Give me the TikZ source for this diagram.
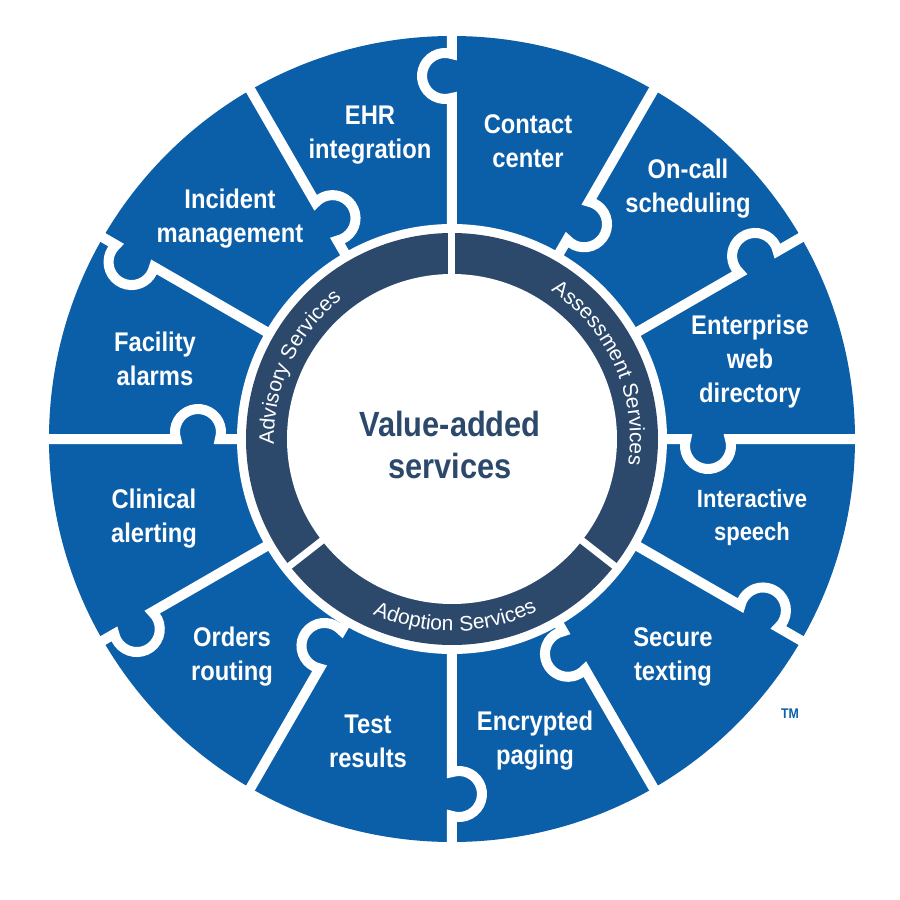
\documentclass[tikz,border=0pt]{standalone}
\usepackage{fontspec}
\setmainfont{Liberation Sans}
\newfontfamily\lblfont{Liberation Sans}[FakeStretch=0.88]
\newfontfamily\ringfont{Liberation Sans}
\newfontfamily\ringwidefont{Liberation Sans}[LetterSpace=4]
\usetikzlibrary{decorations.text}
\definecolor{pblue}{RGB}{11,94,168}
\definecolor{pnavy}{RGB}{44,73,108}
\begin{document}
\begin{tikzpicture}[x=1pt,y=1pt,
  seg/.style={text=white, align=center, font=\lblfont\bfseries\fontsize{27}{34}\selectfont},
  segsmall/.style={text=white, align=center, font=\lblfont\bfseries\fontsize{25}{33}\selectfont},
  divider/.style={draw=white, line width=10pt},
  ringgap/.style={draw=white, line width=7pt},
  ringlabel/.style={decorate, decoration={text along path, text align=center, text color=white}}
]
\useasboundingbox (-452,-461) rectangle (448,439);
% disks
\fill[pblue] (0,0) circle[radius=403];
\fill[white] (0,0) circle[radius=215];
\fill[pnavy] (0,0) circle[radius=206];
\fill[white] (0,0) circle[radius=165];
% dividers with puzzle knobs
\foreach \ang/\s/\st/\en in {90/363/197.7/-17.7, 60/252/162.3/377.7, 30/354/197.7/-17.7,
  0/256/162.3/377.7, -30/355/197.7/-17.7, -60/244/162.3/377.7, -90/355/197.7/-17.7,
  -120/243/162.3/377.7, -150/368/197.7/-17.7, 180/254/162.3/377.7, 150/366/197.7/-17.7,
  120/251/162.3/377.7}{
  \begin{scope}[rotate=\ang]
    \draw[divider] (208,0) -- ({\s-21.91},0) arc[start angle=\st, end angle=\en, radius=23] -- (410,0);
  \end{scope}
}
% gaps in the dark ring
\foreach \ang in {90,-38,-142}{
  \draw[ringgap] (\ang:160) -- (\ang:211);
}
% ring labels
\path[ringlabel, decoration={text={|\ringfont\fontsize{21}{21}\selectfont|Advisory Services}}]
  (215:178) arc[start angle=215, end angle=95, radius=178];
\path[ringlabel, decoration={text={|\ringfont\fontsize{21}{21}\selectfont|Assessment Services}}]
  (84:178) arc[start angle=84, end angle=-36, radius=178];
\path[ringlabel, decoration={text={|\ringwidefont\fontsize{21}{21}\selectfont|Adoption Services}}]
  (-149:192) arc[start angle=-149, end angle=-29, radius=192];
% segment labels
\node[seg] (ehr) at (-82,304) {EHR\\integration};
\node[seg] (contact) at (76,298) {Contact\\center};
\node[seg] (oncall) at (236,250) {On-call\\scheduling};
\node[seg] (webdir) at (298,77) {Enterprise\\web\\directory};
\node[segsmall] (speech) at (300,-79) {Interactive\\speech};
\node[seg] (texting) at (221,-218) {Secure\\texting};
\node[seg] (paging) at (83,-302) {Encrypted\\paging};
\node[seg] (test) at (-84,-302) {Test\\results};
\node[seg] (orders) at (-220,-218) {Orders\\routing};
\node[seg] (clinical) at (-298,-80) {Clinical\\alerting};
\node[seg] (facility) at (-297,80) {Facility\\alarms};
\node[seg] (incident) at (-222,220) {Incident\\management};
% centre
\node[text=pnavy, align=center, font=\lblfont\bfseries\fontsize{35}{42}\selectfont] (ctr) at (-2,-6) {Value-added\\services};
\node[text=pblue, font=\lblfont\bfseries\fontsize{14}{14}\selectfont] (tm) at (338,-275) {TM};
\end{tikzpicture}
\end{document}
